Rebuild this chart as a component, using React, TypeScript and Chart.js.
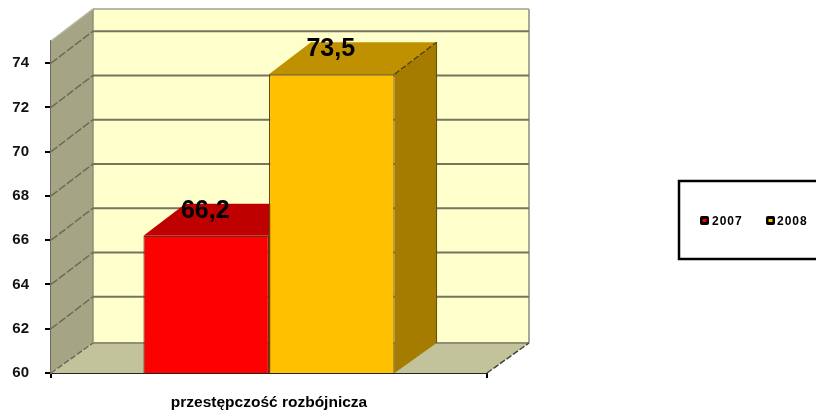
import React, { useEffect, useRef } from "react";
import { Chart, registerables } from "chart.js";

Chart.register(...registerables);

const categories = ["przestępczość rozbójnicza"];
const seriesNames = ["2007", "2008"];
const values2007 = [66.2];
const values2008 = [73.5];
const axisMin = 60;
const axisMax = 75;
const axisStep = 2;

const FONT = '"Liberation Sans", Arial, sans-serif';
const DX = 42;
const DY = -32;
const FLOOR_DY = -30;

const faces = [
  { front: "#FF0000", top: "#BF0000", side: "#A60000", border: "#6E2A20" },
  { front: "#FFC000", top: "#BF9000", side: "#A67C00", border: "#5F4A0A" },
];

function poly(ctx: CanvasRenderingContext2D, pts: number[][], fill: string) {
  ctx.beginPath();
  pts.forEach((p, i) => (i ? ctx.lineTo(p[0], p[1]) : ctx.moveTo(p[0], p[1])));
  ctx.closePath();
  ctx.fillStyle = fill;
  ctx.fill();
}

function seg(
  ctx: CanvasRenderingContext2D,
  x1: number, y1: number, x2: number, y2: number,
  color: string, width: number, dash: number[] = []
) {
  ctx.save();
  ctx.beginPath();
  ctx.setLineDash(dash);
  ctx.moveTo(x1, y1);
  ctx.lineTo(x2, y2);
  ctx.strokeStyle = color;
  ctx.lineWidth = width;
  ctx.stroke();
  ctx.restore();
}

const box3d = {
  id: "box3d",
  beforeDatasetsDraw(chart: any) {
    const { ctx, chartArea: a, scales } = chart;
    const yS = scales.y;
    const backBottom = a.bottom + FLOOR_DY;
    ctx.save();
    // back wall
    poly(ctx, [[a.left + DX, a.top + DY], [a.right + DX, a.top + DY], [a.right + DX, backBottom], [a.left + DX, backBottom]], "#FFFFCC");
    // left wall
    poly(ctx, [[a.left, a.top], [a.left + DX, a.top + DY], [a.left + DX, backBottom], [a.left, a.bottom]], "#A5A585");
    // floor
    poly(ctx, [[a.left, a.bottom], [a.left + DX, backBottom], [a.right + DX, backBottom], [a.right, a.bottom]], "#C2C29B");
    // edges of the box
    seg(ctx, a.left + DX, a.top + DY, a.right + DX, a.top + DY, "#B8B8A8", 2);
    seg(ctx, a.right + DX, a.top + DY, a.right + DX, backBottom, "#A8A898", 2);
    seg(ctx, a.left + DX, a.top + DY, a.left + DX, backBottom, "#8F8F78", 1.5);
    seg(ctx, a.left + DX, backBottom, a.right + DX, backBottom, "#8F8F78", 2);
    seg(ctx, a.left, a.top, a.left + DX, a.top + DY, "#B5B5A0", 1.5);
    seg(ctx, a.left, a.bottom, a.left + DX, backBottom, "#6B6B58", 1.5, [6, 2]);
    seg(ctx, a.right, a.bottom, a.right + DX, backBottom, "#44443A", 1.5, [6, 2]);
    // grid lines from the axis ticks
    for (const t of yS.ticks) {
      if (t.value === axisMin) continue;
      const y = yS.getPixelForValue(t.value);
      seg(ctx, a.left, y, a.left + DX, y + DY, "#6B6B58", 1.5, [8, 2]);
      seg(ctx, a.left + DX, y + DY, a.right + DX, y + DY, "#75755F", 2);
    }
    // bar top and side faces
    chart.data.datasets.forEach((_: any, i: number) => {
      const f = faces[i];
      chart.getDatasetMeta(i).data.forEach((bar: any) => {
        const p = bar.getProps(["x", "y", "width"], true);
        const l = p.x - p.width / 2;
        const r = p.x + p.width / 2;
        poly(ctx, [[l, p.y], [l + DX, p.y + DY], [r + DX, p.y + DY], [r, p.y]], f.top);
        poly(ctx, [[r, p.y], [r + DX, p.y + DY], [r + DX, backBottom], [r, a.bottom]], f.side);
        seg(ctx, r, p.y, r + DX, p.y + DY, "#4A3A10", 1.2, [6, 2]);
        seg(ctx, r + DX, p.y + DY, r + DX, backBottom, f.border, 1);
      });
    });
    ctx.restore();
  },
  afterDatasetsDraw(chart: any) {
    const { ctx } = chart;
    ctx.save();
    ctx.font = `bold 25px ${FONT}`;
    ctx.fillStyle = "#000";
    ctx.textAlign = "center";
    ctx.textBaseline = "middle";
    chart.data.datasets.forEach((ds: any, i: number) => {
      chart.getDatasetMeta(i).data.forEach((bar: any, j: number) => {
        const p = bar.getProps(["x", "y"], true);
        ctx.fillText(String(ds.data[j]).replace(".", ","), p.x - 1, p.y - 25);
      });
    });
    ctx.restore();
  },
  afterDraw(chart: any) {
    const { ctx } = chart;
    ctx.save();
    // legend frame runs off the right edge of the page
    ctx.strokeStyle = "#000";
    ctx.lineWidth = 2.5;
    ctx.strokeRect(679, 181, 160, 78);
    const swatch = [700, 766];
    const textX = [712, 777];
    ctx.font = `bold 12px ${FONT}`;
    (ctx as any).letterSpacing = "1px";
    ctx.textBaseline = "middle";
    chart.data.datasets.forEach((ds: any, i: number) => {
      ctx.beginPath();
      ctx.roundRect(swatch[i], 216, 9, 9, 2);
      ctx.fillStyle = "#000";
      ctx.fill();
      ctx.fillStyle = faces[i].front;
      ctx.fillRect(swatch[i] + 2.5, 219, 4, 3);
      ctx.fillStyle = "#000";
      ctx.fillText(ds.label, textX[i], 222);
    });
    ctx.restore();
  },
};

export default function App() {
  const ref = useRef<HTMLCanvasElement>(null);
  useEffect(() => {
    document.body.style.margin = "0";
    const chart = new Chart(ref.current as HTMLCanvasElement, {
      type: "bar",
      data: {
        labels: categories,
        datasets: [
          { label: seriesNames[0], data: values2007, backgroundColor: faces[0].front, borderColor: faces[0].border, borderWidth: 1.2 },
          { label: seriesNames[1], data: values2008, backgroundColor: faces[1].front, borderColor: faces[1].border, borderWidth: 1.2 },
        ],
      },
      options: {
        responsive: false,
        animation: false,
        devicePixelRatio: 1,
        layout: { padding: { left: 0, top: 41, right: 329, bottom: 0 } },
        datasets: { bar: { barPercentage: 1, categoryPercentage: 0.576 } },
        plugins: { legend: { display: false }, tooltip: { enabled: false } },
        scales: {
          x: {
            afterFit: (s: any) => { s.height = 43; },
            border: { display: true, color: "#222", width: 2, dash: [2, 2] },
            grid: { offset: true, drawOnChartArea: false, drawTicks: true, tickLength: 5, color: "#000", lineWidth: 2 },
            ticks: { color: "#000", padding: 15, font: { family: FONT, size: 15.5, weight: "bold" } },
          },
          y: {
            min: axisMin,
            max: axisMax,
            afterFit: (s: any) => { s.width = 51; },
            border: { display: true, color: "#6B6B60", width: 2 },
            grid: { drawOnChartArea: false, drawTicks: true, tickLength: 6, color: "#000", lineWidth: 2 },
            ticks: { stepSize: axisStep, includeBounds: false, color: "#111", padding: 16, font: { family: FONT, size: 15, weight: "bold" } },
          },
        },
      } as any,
      plugins: [box3d as any],
    });
    return () => chart.destroy();
  }, []);
  return <canvas ref={ref} width={816} height={416} style={{ display: "block", filter: "blur(0.5px)" }} />;
}
